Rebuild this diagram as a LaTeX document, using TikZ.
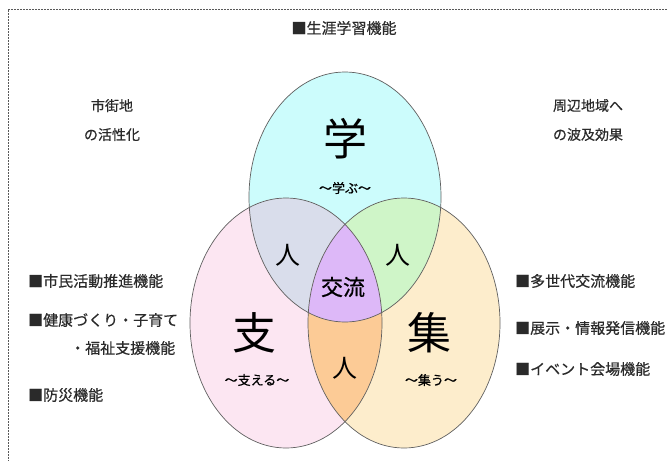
\documentclass[tikz,border=0pt]{standalone}
\usepackage{fontspec}
\setmainfont{Noto Sans CJK JP}
\newfontfamily\gothicmed[FakeBold=0.5]{Noto Sans CJK JP}
\usetikzlibrary{positioning}

\definecolor{gakuFill}{HTML}{CCFCFC}
\definecolor{shiFill}{HTML}{FCE6F2}
\definecolor{shuFill}{HTML}{FDEDCC}
\definecolor{gakushiFill}{HTML}{D9DDEB}
\definecolor{gakushuFill}{HTML}{CFF5C8}
\definecolor{shishuFill}{HTML}{FCCB96}
\definecolor{koryuFill}{HTML}{DDB8F8}
\definecolor{listText}{HTML}{2A2A2A}

\begin{document}
\begin{tikzpicture}[x=1pt,y=-1pt,
    listtext/.style={font=\gothicmed\fontsize{15}{18}\selectfont, text=listText, inner sep=0pt},
    bigchar/.style={font=\fontsize{44}{46}\selectfont, inner sep=0pt},
    subtext/.style={font=\gothicmed\fontsize{13}{15}\selectfont, inner sep=0pt},
    hito/.style={font=\fontsize{25}{27}\selectfont, inner sep=0pt}]
 % fixed frame of the picture
 \useasboundingbox (0,0) rectangle (667,461);
 \draw[gray!70!black, line width=0.8pt, dash pattern=on 2pt off 1pt] (667,9) -- (8,9) -- (8,461);

 % centres and radii of the three circles
 \def\rx{96}
 \def\ry{125}
 \coordinate (gaku) at (345,197);
 \coordinate (shi) at (286,323);
 \coordinate (shu) at (404,323);

 \fill[gakuFill] (gaku) ellipse [x radius=\rx, y radius=\ry];
 \fill[shiFill] (shi) ellipse [x radius=\rx, y radius=\ry];
 \fill[shuFill] (shu) ellipse [x radius=\rx, y radius=\ry];

 % overlaps
 \begin{scope}
  \clip (gaku) ellipse [x radius=\rx, y radius=\ry];
  \fill[gakushiFill] (shi) ellipse [x radius=\rx, y radius=\ry];
  \fill[gakushuFill] (shu) ellipse [x radius=\rx, y radius=\ry];
 \end{scope}
 \begin{scope}
  \clip (shi) ellipse [x radius=\rx, y radius=\ry];
  \fill[shishuFill] (shu) ellipse [x radius=\rx, y radius=\ry];
  \clip (gaku) ellipse [x radius=\rx, y radius=\ry];
  \fill[koryuFill] (shu) ellipse [x radius=\rx, y radius=\ry];
 \end{scope}

 \foreach \c in {gaku,shi,shu}
  {\draw[gray!75!black, line width=0.7pt] (\c) ellipse [x radius=\rx, y radius=\ry];}

 % texts in the circles
 \node[bigchar] (gakuchar) at (345,139) {学};
 \node[subtext] (gakusub) at (345,188) {～学ぶ～};
 \node[bigchar] (shichar) at (254,333) {支};
 \node[subtext] (shisub) at (257,380) {～支える～};
 \node[bigchar] (shuchar) at (429,333) {集};
 \node[subtext] (shusub) at (431,380) {～集う～};
 \node[hito] (hitoL) at (288,255) {人};
 \node[hito] (hitoR) at (398,255) {人};
 \node[hito] (hitoB) at (345,368) {人};
 \node[font=\gothicmed\fontsize{22}{24}\selectfont, inner sep=0pt] (koryu) at (343,287) {交流};

 % texts round the circles
 \node[listtext] (shogai) at (344,28) {■生涯学習機能};
 \node[listtext, align=center, font=\gothicmed\fontsize{14}{29}\selectfont] (shigaichi) at (112,120) {市街地\\の活性化};
 \node[listtext, align=center, font=\gothicmed\fontsize{14}{29}\selectfont] (shuhen) at (588,120) {周辺地域へ\\の波及効果};

 \node[listtext, anchor=west] (shimin) at (28,281) {■市民活動推進機能};
 \node[listtext, anchor=west] (kenko) at (28,320) {■健康づくり・子育て};
 \node[listtext, anchor=west] (fukushi) at (70,348) {・福祉支援機能};
 \node[listtext, anchor=west] (bosai) at (28,395) {■防災機能};

 \node[listtext, anchor=west] (tasedai) at (515,281) {■多世代交流機能};
 \node[listtext, anchor=west] (tenji) at (515,328) {■展示・情報発信機能};
 \node[listtext, anchor=west] (event) at (515,369) {■イベント会場機能};
\end{tikzpicture}
\end{document}
